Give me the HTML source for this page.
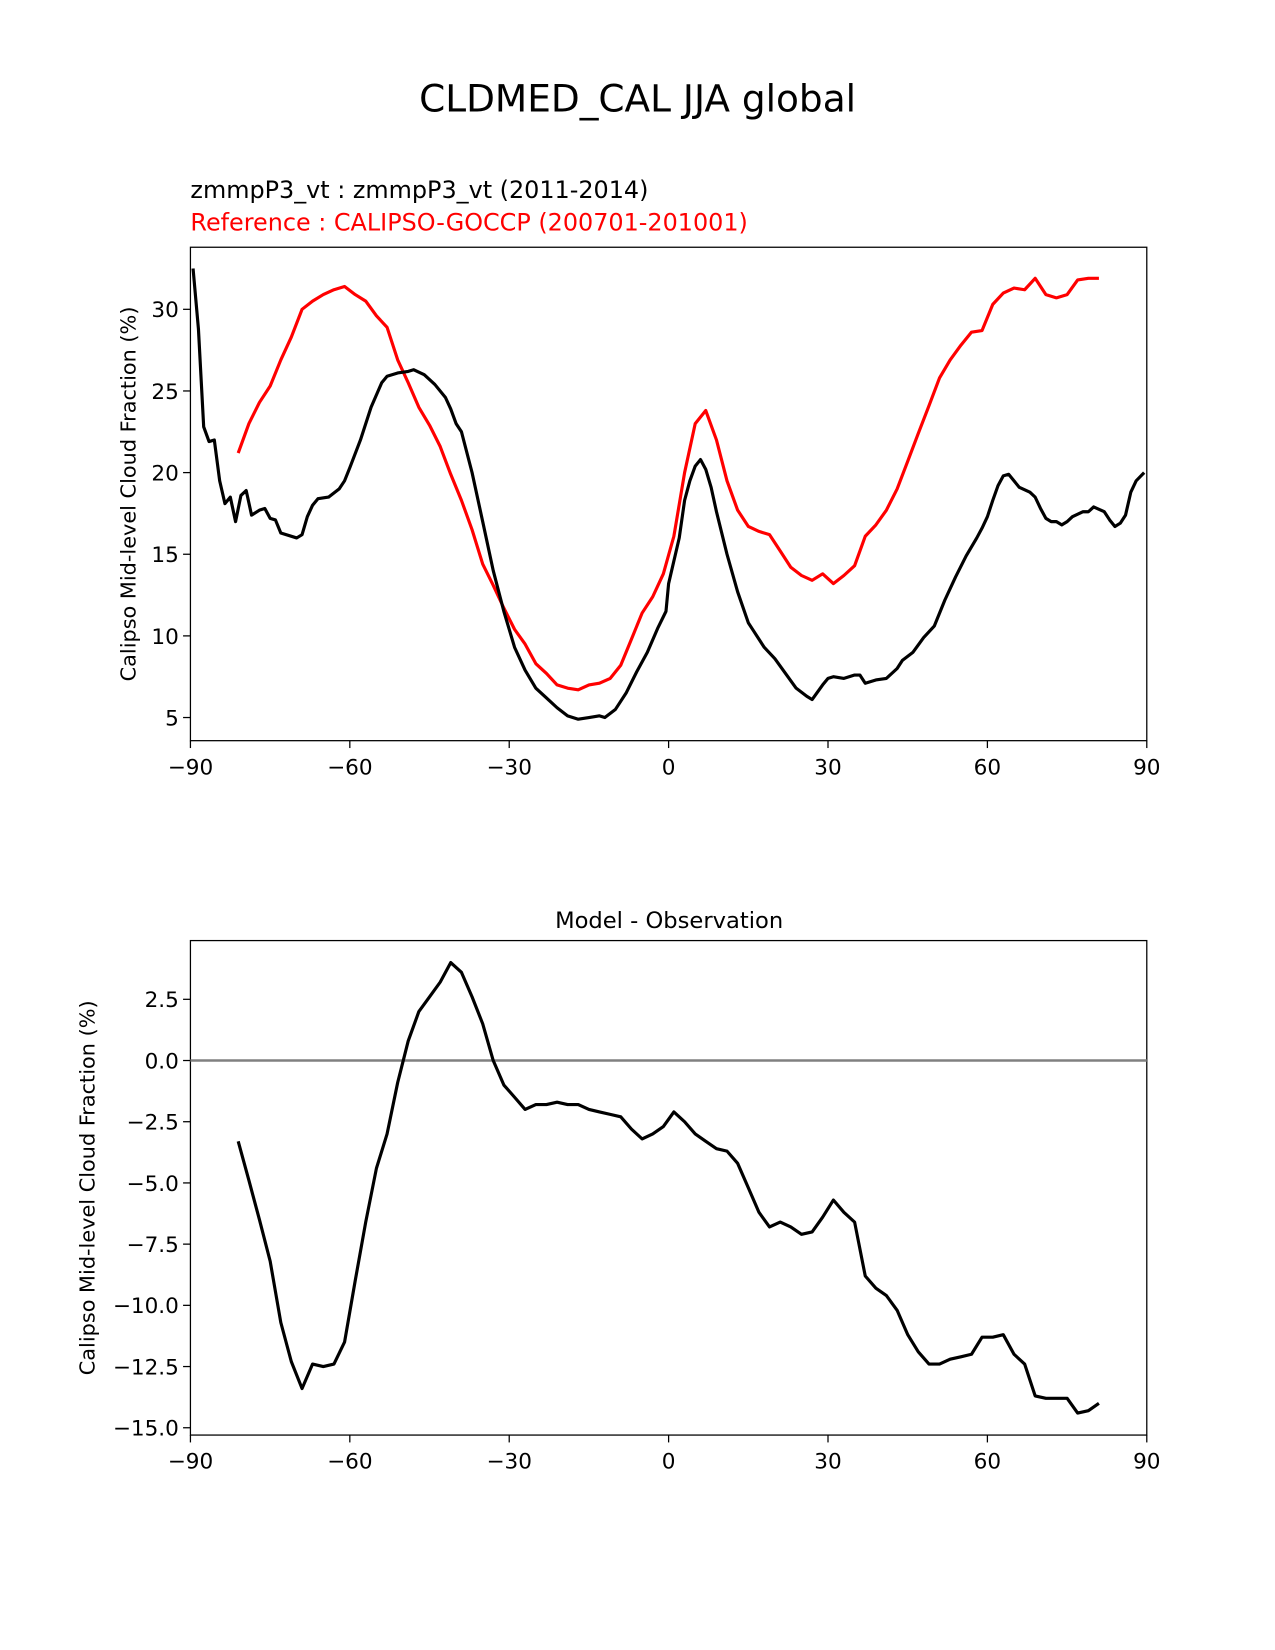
<!DOCTYPE html>
<html><head><meta charset="utf-8"><style>
body{margin:0;background:#fff}
svg{display:block;font-family:"DejaVu Sans","Liberation Sans",sans-serif}
</style></head><body>
<svg id="chart" width="1275" height="1650" viewBox="0 0 1275 1650">
<g transform="scale(1.0521)">
<text x="606" y="106" font-size="35.6" text-anchor="middle">CLDMED_CAL JJA global</text>
<text x="181" y="188" font-size="22.7">zmmpP3_vt : zmmpP3_vt (2011-2014)</text>
<text x="181" y="219" font-size="22.7" fill="#ff0000">Reference : CALIPSO-GOCCP (200701-201001)</text>
<text x="636" y="882" font-size="21.5" text-anchor="middle">Model - Observation</text>
<g id="top"></g>
<g id="bot"></g>
</g>
</svg>
<script>
const modelLat=[-89.5,-88.5,-87.5,-86.5,-85.5,-84.5,-83.5,-82.5,-81.5,-80.5,-79.5,-78.5,-77,-76,-75,-74,-73,-70,-69,-68,-67,-66,-64,-62,-61,-60,-58,-56,-54,-53,-51,-49,-48,-46,-44,-42,-41,-40,-39,-37,-35,-33,-31,-29,-27,-25,-23,-21,-19,-17,-15,-13,-12,-10,-8,-6,-4,-2,-0.5,0,2,3,4,5,6,7,8,9,11,13,15,16,18,20,22,24,26,27,29,30,31,33,35,36,37,39,41,43,44,46,48,50,52,54,56,58,59,60,61,62,63,64,66,68,69,70,71,72,73,74,75,76,78,79,80,82,83,84,85,86,87,88,89.5];
const modelVal=[32.5,28.8,22.8,21.9,22.0,19.5,18.1,18.5,17.0,18.6,18.9,17.4,17.7,17.8,17.2,17.1,16.3,16.0,16.2,17.3,18.0,18.4,18.5,19.0,19.5,20.3,22.0,24.0,25.5,25.9,26.1,26.2,26.3,26.0,25.4,24.6,23.9,23.0,22.5,20.0,17.0,14.0,11.5,9.3,7.9,6.8,6.2,5.6,5.1,4.9,5.0,5.1,5.0,5.5,6.5,7.8,9.0,10.5,11.5,13.2,16.0,18.3,19.5,20.4,20.8,20.2,19.1,17.6,15.0,12.7,10.8,10.3,9.3,8.6,7.7,6.8,6.3,6.1,7.0,7.4,7.5,7.4,7.6,7.6,7.1,7.3,7.4,8.0,8.5,9.0,9.9,10.6,12.2,13.6,14.9,16.0,16.6,17.3,18.3,19.2,19.8,19.9,19.1,18.8,18.5,17.8,17.2,17.0,17.0,16.8,17.0,17.3,17.6,17.6,17.9,17.6,17.1,16.7,16.9,17.4,18.8,19.5,20.0];
const refLat=[-81,-79,-77,-75,-73,-71,-69,-67,-65,-63,-61,-59,-57,-55,-53,-51,-49,-47,-45,-43,-41,-39,-37,-35,-33,-31,-29,-27,-25,-23,-21,-19,-17,-15,-13,-11,-9,-7,-5,-3,-1,1,3,5,7,9,11,13,15,17,19,21,23,25,27,29,31,33,35,37,39,41,43,45,47,49,51,53,55,57,59,61,63,65,67,69,71,73,75,77,79,81];
const refVal=[21.2,23.0,24.3,25.3,26.9,28.3,30.0,30.5,30.9,31.2,31.4,30.9,30.5,29.6,28.9,26.9,25.5,24.0,22.9,21.6,19.9,18.3,16.5,14.4,13.1,11.7,10.4,9.5,8.3,7.7,7.0,6.8,6.7,7.0,7.1,7.4,8.2,9.8,11.4,12.4,13.8,16.1,20.0,23.0,23.8,22.0,19.5,17.7,16.7,16.4,16.2,15.2,14.2,13.7,13.4,13.8,13.2,13.7,14.3,16.1,16.8,17.7,19.0,20.7,22.4,24.1,25.8,26.9,27.8,28.6,28.7,30.3,31.0,31.3,31.2,31.9,30.9,30.7,30.9,31.8,31.9,31.9];
const diffVal=[-3.3,-4.9,-6.5,-8.2,-10.7,-12.3,-13.4,-12.4,-12.5,-12.4,-11.5,-9.0,-6.6,-4.4,-3.0,-0.9,0.8,2.0,2.6,3.2,4.0,3.6,2.6,1.5,0.0,-1.0,-1.5,-2.0,-1.8,-1.8,-1.7,-1.8,-1.8,-2.0,-2.1,-2.2,-2.3,-2.8,-3.2,-3.0,-2.7,-2.1,-2.5,-3.0,-3.3,-3.6,-3.7,-4.2,-5.2,-6.2,-6.8,-6.6,-6.8,-7.1,-7.0,-6.4,-5.7,-6.2,-6.6,-8.8,-9.3,-9.6,-10.2,-11.2,-11.9,-12.4,-12.4,-12.2,-12.1,-12.0,-11.3,-11.3,-11.2,-12.0,-12.4,-13.7,-13.8,-13.8,-13.8,-14.4,-14.3,-14.0];
const xTicks=[-90,-60,-30,0,30,60,90];
const xTickLabels=["\u221290","\u221260","\u221230","0","30","60","90"];
const topYTicks=[5,10,15,20,25,30];
const botYTicks=[2.5,0,-2.5,-5,-7.5,-10,-12.5,-15];
const botYLabels=["2.5","0.0","\u22122.5","\u22125.0","\u22127.5","\u221210.0","\u221212.5","\u221215.0"];

const NS="http://www.w3.org/2000/svg";
function mk(parent,tag,attrs,text){const e=document.createElementNS(NS,tag);for(const k in attrs)e.setAttribute(k,attrs[k]);if(text!==undefined)e.textContent=text;parent.appendChild(e);return e;}
const L=181,R=1090;
const xs=v=>L+(v+90)/180*(R-L);
const yTop=v=>682-(v-5)*15.52;
const yBot=v=>1008-v*23.27;

function panel(g,top,bottom,ys,yTicks,yLabels,ytitleX){
  const box=mk(g,'rect',{x:L,y:top,width:R-L,height:bottom-top,fill:'none',stroke:'#000','stroke-width':1.2});
  
  
  xTicks.forEach((t,i)=>{
    const tl=mk(g,'line',{x1:xs(t),x2:xs(t),y1:bottom,y2:bottom+7,stroke:'#000','stroke-width':1.2});
    
    
    const tx=mk(g,'text',{x:xs(t),y:bottom+32,'font-size':20.5,'text-anchor':'middle'},xTickLabels[i]);
    
    
  });
  yTicks.forEach((t,i)=>{
    const tl=mk(g,'line',{x1:L-7,x2:L,y1:ys(t),y2:ys(t),stroke:'#000','stroke-width':1.2});
    
    
    const tx=mk(g,'text',{x:L-11,y:ys(t)+7.5,'font-size':20.5,'text-anchor':'end'},yLabels[i]);
    
    
  });
  const cy=(top+bottom)/2;
  const yt=mk(g,'text',{x:ytitleX,y:cy,'font-size':19.8,'text-anchor':'middle',transform:`rotate(-90 ${ytitleX} ${cy})`},'Calipso Mid-level Cloud Fraction (%)');
  
  
}
function line(g,lat,val,ys,color,name){
  const d=lat.map((a,i)=>(i?'L':'M')+xs(a).toFixed(1)+','+ys(val[i]).toFixed(1)).join('');
  const p=mk(g,'path',{d:d,fill:'none',stroke:color,'stroke-width':3,'stroke-linejoin':'round'});
  
  
}
const gt=document.getElementById('top'), gb=document.getElementById('bot');
panel(gt,235,704,yTop,topYTicks,topYTicks.map(String),129);
line(gt,refLat,refVal,yTop,'#ff0000','reference-line');
line(gt,modelLat,modelVal,yTop,'#000','model-line');
panel(gb,894,1364,yBot,botYTicks,botYLabels,90);
const z=mk(gb,'line',{x1:L,x2:R,y1:yBot(0),y2:yBot(0),stroke:'#808080','stroke-width':2.4});


line(gb,refLat,diffVal,yBot,'#000','difference-line');
</script>
</body></html>
